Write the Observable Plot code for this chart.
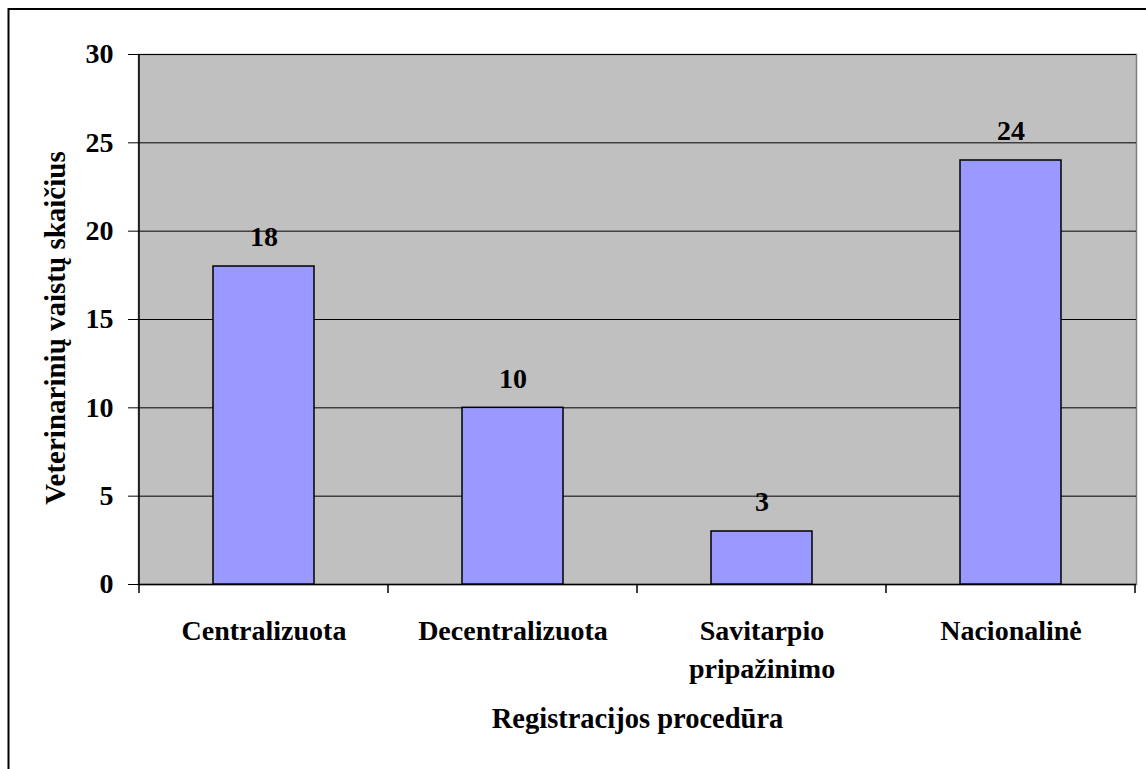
<!DOCTYPE html>
<html>
<head>
<meta charset="utf-8">
<script src="https://cdn.jsdelivr.net/npm/d3@7"></script>
<script src="https://cdn.jsdelivr.net/npm/@observablehq/plot@0.6"></script>
<style>
  html, body { margin: 0; padding: 0; background: white; }
  #chart { position: relative; width: 1146px; height: 769px; overflow: hidden; }
  #chart svg, #chart svg text { font-family: "Liberation Serif", "Times New Roman", serif !important; font-weight: bold; }
</style>
</head>
<body>
<div id="chart"></div>
<script>
const categories = ["Centralizuota", "Decentralizuota", "Savitarpio pripažinimo", "Nacionalinė"];
const tickLabels = ["Centralizuota", "Decentralizuota", "Savitarpio\npripažinimo", "Nacionalinė"];
const values = [18, 10, 3, 24];
const yTicks = [0, 5, 10, 15, 20, 25, 30];
const xTitle = "Registracijos procedūra";
const yTitle = "Veterinarinių vaistų skaičius";

const data = categories.map((c, i) => ({category: c, value: values[i]}));
const FONT = "Liberation Serif";

const chart = Plot.plot({
  width: 1146,
  height: 769,
  marginLeft: 138,
  marginRight: 10,
  marginTop: 54,
  marginBottom: 185,
  style: {fontFamily: FONT, fontSize: "28px", fontWeight: "bold", color: "black", background: "white", overflow: "visible"},
  x: {domain: categories, paddingInner: 0.595, paddingOuter: 0.2976, label: null},
  y: {domain: [0, 30], label: null},
  marks: [
    Plot.frame({fill: "#C0C0C0", stroke: "#808080", strokeWidth: 1.5}),
    Plot.gridY(yTicks, {stroke: "black", strokeOpacity: 1, strokeWidth: 1}),
    Plot.ruleY([0], {stroke: "black", strokeWidth: 1.5}),
    Plot.barY(data, {x: "category", y: "value", fill: "#9999FF", stroke: "black", strokeWidth: 1.5}),
    Plot.text(data, {x: "category", y: "value", text: d => String(d.value), dy: -29, fontFamily: FONT, fontSize: 28, fontWeight: "bold", fill: "black"}),
    Plot.axisY(yTicks, {tickSize: 10, tickPadding: 15, label: null, fontFamily: FONT, fontSize: 28, fontWeight: "bold", stroke: "black"}),
    Plot.axisX({tickSize: 0, tickPadding: 29, label: null, fontFamily: FONT, fontSize: 28, fontWeight: "bold",
      tickFormat: d => tickLabels[categories.indexOf(d)], lineHeight: 1.35}),
    Plot.text([xTitle], {frameAnchor: "bottom", textAnchor: "middle", lineAnchor: "bottom", dy: 143, fontFamily: FONT, fontSize: 28.5, fontWeight: "bold", fill: "black"}),
    Plot.text([yTitle], {frameAnchor: "left", textAnchor: "middle", rotate: -90, lineAnchor: "bottom", dx: -74, dy: 8.5, fontFamily: FONT, fontSize: 29, fontWeight: "bold", fill: "black"})
  ]
});

// Category boundary ticks and left axis line, positioned from the Plot scales
const sx = chart.scale("x");
const sy = chart.scale("y");
const half = (sx.step - sx.bandwidth) / 2;
const bounds = categories.map(c => sx.apply(c) - half);
bounds.push(sx.apply(categories[categories.length - 1]) + sx.bandwidth + half);
const svg = d3.select(chart);
const y0 = sy.apply(0), yTop = sy.apply(30);
svg.append("line")
  .attr("x1", bounds[0]).attr("x2", bounds[0])
  .attr("y1", yTop).attr("y2", y0 + 9)
  .attr("stroke", "black").attr("stroke-width", 1.5);
bounds.slice(1).forEach(b => {
  svg.append("line")
    .attr("x1", b).attr("x2", b).attr("y1", y0).attr("y2", y0 + 9)
    .attr("stroke", "black").attr("stroke-width", 1.5);
});
// outer chart border
svg.append("rect")
  .attr("x", 8.5).attr("y", 9).attr("width", 1160).attr("height", 800)
  .attr("fill", "none").attr("stroke", "black").attr("stroke-width", 2);

document.getElementById("chart").appendChild(chart);
</script>
</body>
</html>
